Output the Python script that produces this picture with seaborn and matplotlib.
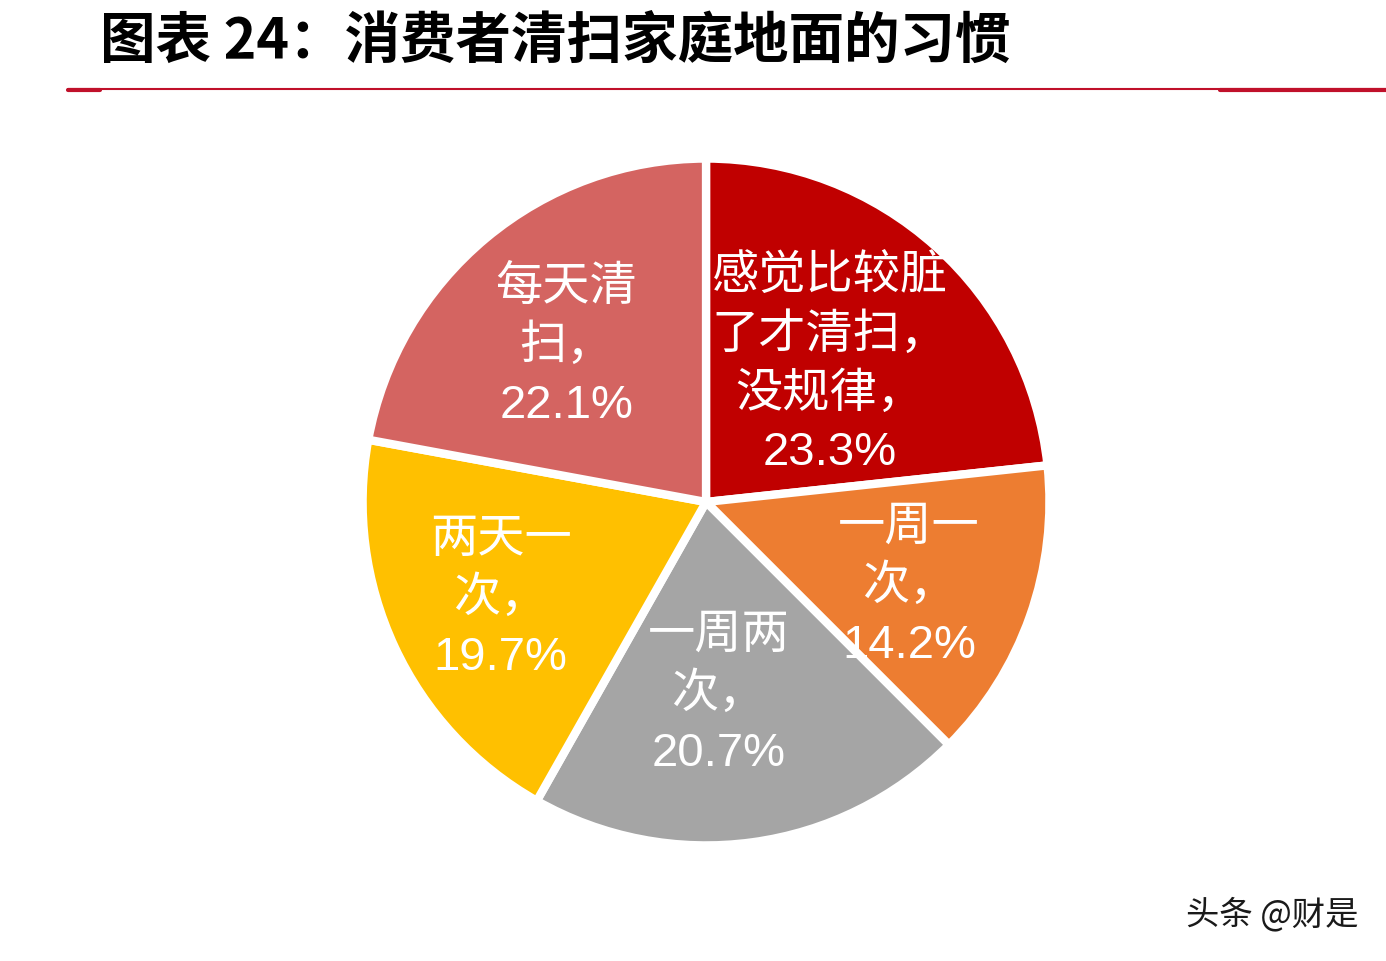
import matplotlib
matplotlib.use("Agg")
import numpy as np
import matplotlib.pyplot as plt
import seaborn as sns
from matplotlib.lines import Line2D

# data (clockwise from 12 o'clock)
categories = ["感觉比较脏\n了才清扫，\n没规律，", "一周一\n次，", "一周两\n次，", "两天一\n次，", "每天清\n扫，"]
shares = [23.3, 14.2, 20.7, 19.7, 22.1]
colors = ["#C00000", "#ED7D31", "#A5A5A5", "#FFC000", "#D46461"]
title = "图表 24：消费者清扫家庭地面的习惯"
watermark = "头条 @财是"

# label placement per slice (styling only): distance from centre, angle nudge in degrees
label_r = [0.54, 0.64, 0.56, 0.66, 0.61]
label_dtheta = [0, -3, -4, 0, 2]

sns.set_theme(style="white")
plt.rcParams["font.family"] = ["Liberation Sans", "Noto Sans CJK SC", "DejaVu Sans"]

fig = plt.figure(figsize=(13.86, 9.62), dpi=100)
ax = fig.add_axes([0.2641, 0.1237, 0.4906, 0.7069])

wedges, _ = ax.pie(
    shares,
    colors=colors,
    startangle=90,
    counterclock=False,
    wedgeprops=dict(edgecolor="white", linewidth=6),
)
for w, c, v, r, dt in zip(wedges, categories, shares, label_r, label_dtheta):
    ang = np.deg2rad((w.theta1 + w.theta2) / 2 + dt)
    t = ax.text(r * np.cos(ang), r * np.sin(ang), f"{c}\n{v:.1f}%",
                color="white", fontsize=34, linespacing=1.42,
                ha="center", va="center", multialignment="center")
    t.set_clip_path(w)

ax.set_xlim(-0.99, 0.99)
ax.set_ylim(-0.99, 0.99)
ax.set_aspect("equal")
ax.axis("off")

# header
fig.text(0.072, 0.957, title, fontsize=40, fontweight="bold", color="black",
         ha="left", va="center", family=["Noto Sans CJK SC", "DejaVu Sans"])
fig.add_artist(Line2D([0.049, 1.0], [0.906, 0.906], color="#C0102A", lw=1.5))
fig.add_artist(Line2D([0.049, 0.072], [0.905, 0.905], color="#C0102A", lw=3))
fig.add_artist(Line2D([0.88, 1.0], [0.905, 0.905], color="#C0102A", lw=3))

fig.text(0.98, 0.049, watermark, fontsize=24, color="#1a1a1a", ha="right", va="center",
         family=["Noto Sans CJK SC", "DejaVu Sans"])

fig.savefig("out.png", dpi=100, facecolor="white")
